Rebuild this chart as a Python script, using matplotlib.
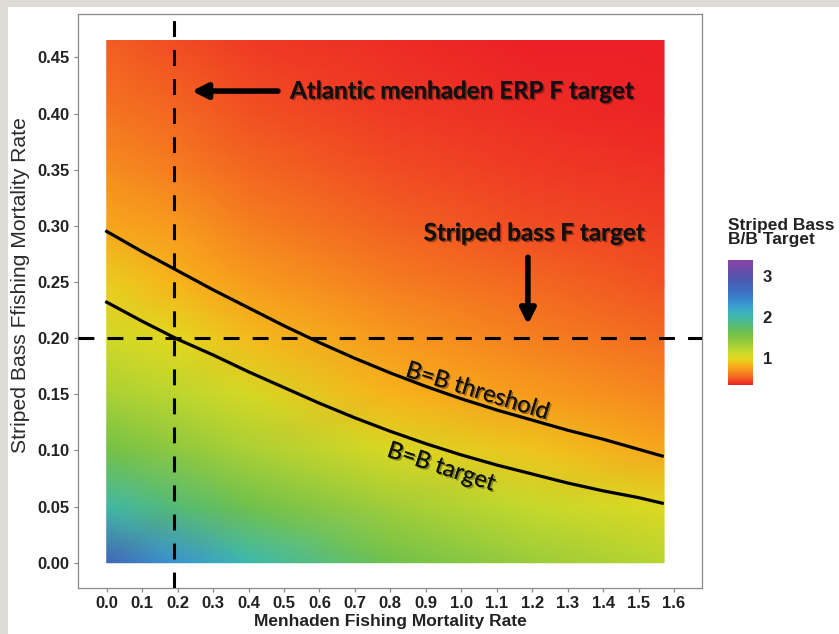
import numpy as np
import matplotlib
matplotlib.use("Agg")
import matplotlib.pyplot as plt
from matplotlib.colors import LinearSegmentedColormap, Normalize
from matplotlib.patches import Rectangle
import matplotlib.patheffects as pe

# ---------------- data ----------------
f_menhaden = [0.0, 0.2, 0.4, 0.8, 1.2, 1.572]
f_bass = [0.0, 0.05, 0.10, 0.15, 0.20, 0.25, 0.30, 0.35, 0.40, 0.465]
# B / B target  (rows: f_bass, columns: f_menhaden)
b_ratio = [
    [2.75, 2.35, 2.05, 1.62, 1.38, 1.22],
    [2.00, 1.80, 1.62, 1.35, 1.16, 1.02],
    [1.60, 1.45, 1.30, 1.06, 0.92, 0.79],
    [1.30, 1.20, 1.07, 0.85, 0.74, 0.65],
    [1.10, 1.00, 0.88, 0.72, 0.63, 0.56],
    [0.95, 0.84, 0.74, 0.62, 0.55, 0.49],
    [0.79, 0.72, 0.63, 0.54, 0.48, 0.44],
    [0.68, 0.62, 0.55, 0.48, 0.43, 0.40],
    [0.60, 0.55, 0.49, 0.43, 0.39, 0.37],
    [0.52, 0.48, 0.43, 0.39, 0.36, 0.34],
]

curve_fm = [0.0, 0.1, 0.2, 0.3, 0.4, 0.5, 0.6, 0.7, 0.8, 0.9, 1.0, 1.1, 1.2, 1.3, 1.4, 1.5, 1.567]
threshold_fb = [0.295, 0.277, 0.260, 0.243, 0.227, 0.211, 0.196, 0.182, 0.169, 0.157,
                0.146, 0.136, 0.127, 0.118, 0.110, 0.101, 0.095]
target_fb = [0.232, 0.215, 0.199, 0.185, 0.170, 0.156, 0.142, 0.129, 0.117, 0.106,
             0.096, 0.087, 0.079, 0.071, 0.064, 0.058, 0.053]

menhaden_erp_f_target = 0.19
bass_f_target = 0.20

x_ticks = [0.0, 0.1, 0.2, 0.3, 0.4, 0.5, 0.6, 0.7, 0.8, 0.9, 1.0, 1.1, 1.2, 1.3, 1.4, 1.5, 1.6]
y_ticks = [0.00, 0.05, 0.10, 0.15, 0.20, 0.25, 0.30, 0.35, 0.40, 0.45]
cbar_ticks = [1, 2, 3]

# ---------------- colormap ----------------
anchors = [
    (0.35, '#ec1f26'), (0.45, '#f04523'), (0.55, '#f36a21'), (0.70, '#f7941e'),
    (0.85, '#f8b51b'), (1.00, '#e2d81f'), (1.15, '#c6d92b'), (1.35, '#a0cd3a'),
    (1.60, '#72c148'), (1.85, '#4fba80'), (2.05, '#3db8b0'), (2.30, '#3a9bd2'),
    (2.55, '#3a78c6'), (2.80, '#4462b6'), (3.05, '#5a52ab'), (3.40, '#8a42a8'),
]
vmin, vmax = 0.35, 3.40
cmap = LinearSegmentedColormap.from_list(
    'rb', [((v - vmin) / (vmax - vmin), c) for v, c in anchors])
norm = Normalize(vmin=vmin, vmax=vmax)

W, H = 839, 634
fig = plt.figure(figsize=(W / 100, H / 100), dpi=100)
fig.patch.set_facecolor('#dcdcd5')
fig.add_artist(Rectangle((8 / W, 0), 1, 1 - 7 / H, transform=fig.transFigure,
                         facecolor='white', edgecolor='none', zorder=-5))

ax = fig.add_axes([78 / W, 46 / H, 624 / W, 574 / H])
ax.set_xlim(-0.081, 1.679)
ax.set_ylim(-0.0225, 0.4886)

X, Y = np.meshgrid(f_menhaden, f_bass)
Z = np.array(b_ratio)
mesh = ax.pcolormesh(X, Y, Z, shading='gouraud', cmap=cmap, norm=norm, zorder=1)

ax.plot(curve_fm, threshold_fb, color='black', lw=2.3, zorder=3, solid_joinstyle='round')
ax.plot(curve_fm, target_fb, color='black', lw=2.3, zorder=3, solid_joinstyle='round')

ax.axvline(menhaden_erp_f_target, color='black', lw=2.2, dashes=(5.2, 4.3), zorder=4)
ax.axhline(bass_f_target, color='black', lw=2.2, dashes=(5.2, 4.3), zorder=4)

for s in ax.spines.values():
    s.set_color('#8a8a8a')
    s.set_linewidth(0.9)

tick_font = dict(family='Liberation Sans', weight='bold', size=12)
ax.set_xticks(x_ticks)
ax.set_xticklabels([f"{v:.1f}" for v in x_ticks], fontdict=tick_font)
ax.set_yticks(y_ticks)
ax.set_yticklabels([f"{v:.2f}" for v in y_ticks], fontdict=tick_font)
ax.tick_params(colors='#8a8a8a', labelcolor='#222222', length=3, width=0.9, pad=3)

ax.set_xlabel('Menhaden Fishing Mortality Rate', family='Liberation Sans',
              weight='bold', size=12.5, color='#222222', labelpad=2)
ax.set_ylabel('Striped Bass Ffishing Mortality Rate', family='Liberation Sans',
              size=15.2, color='#2a2a2a')
ax.yaxis.set_label_coords(-0.077, 0.528)

shadow = [pe.withSimplePatchShadow(offset=(1.2, -1.2), shadow_rgbFace='black', alpha=0.35),
          pe.Normal()]
ann_font = dict(family=['Lato', 'DejaVu Sans'], weight='bold', size=17.4, color='#111111')

ax.text(0.517, 0.42, 'Atlantic menhaden ERP F target', ha='left', va='center',
        zorder=5, path_effects=shadow, **ann_font)
ax.annotate('', xy=(0.240, 0.42), xytext=(0.483, 0.42), zorder=5,
            arrowprops=dict(arrowstyle='-|>,head_length=0.9,head_width=0.45',
                            color='black', lw=4, shrinkA=0, shrinkB=0))

ax.text(1.205, 0.2936, 'Striped bass F target', ha='center', va='center',
        zorder=5, path_effects=shadow, **ann_font)
ax.annotate('', xy=(1.188, 0.212), xytext=(1.188, 0.272), zorder=5,
            arrowprops=dict(arrowstyle='-|>,head_length=0.9,head_width=0.45',
                            color='black', lw=4, shrinkA=0, shrinkB=0))

lab_font = dict(family=['Lato', 'DejaVu Sans'], weight='normal', size=17, color='#111111')
ax.text(1.045, 0.1525, 'B=B threshold', ha='center', va='center', rotation=-17,
        rotation_mode='anchor', zorder=5, path_effects=shadow, **lab_font)
ax.text(0.943, 0.085, 'B=B target', ha='center', va='center', rotation=-18,
        rotation_mode='anchor', zorder=5, path_effects=shadow, **lab_font)

# colorbar
cax = fig.add_axes([728 / W, (H - 385) / H, 25 / W, 125 / H])
cb = fig.colorbar(mesh, cax=cax, ticks=cbar_ticks)
cb.outline.set_visible(False)
cb.ax.tick_params(length=0, pad=7, labelsize=12, labelcolor='#222222')
for t in cb.ax.get_yticklabels():
    t.set_fontweight('bold')
    t.set_family('Liberation Sans')
fig.text(728 / W, (H - 218) / H, 'Striped Bass\nB/B Target', ha='left', va='top',
         family='Liberation Sans', weight='bold', size=12.5, color='#222222',
         linespacing=0.95)

fig.savefig('out.png', dpi=100, facecolor=fig.get_facecolor())
